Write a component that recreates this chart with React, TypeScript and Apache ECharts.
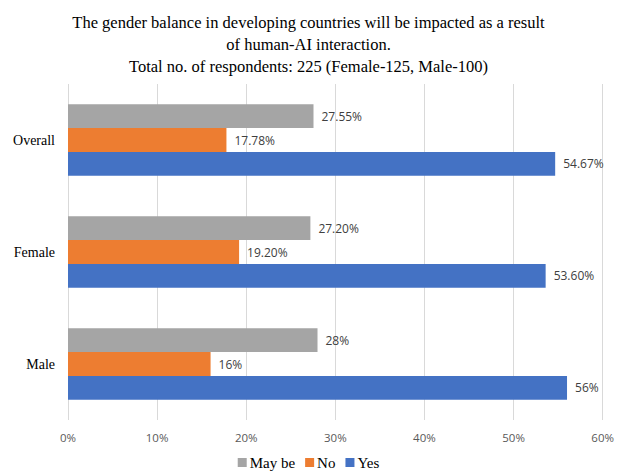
import React, { useEffect, useRef } from "react";
import * as echarts from "echarts";

const categories = ["Male", "Female", "Overall"];
const yesValues = [56, 53.6, 54.67];
const noValues = [16, 19.2, 17.78];
const maybeValues = [28, 27.2, 27.55];
const xTicks = [0, 10, 20, 30, 40, 50, 60];
const titleLines = [
  "The gender balance in developing countries will be impacted as a result",
  "of human-AI interaction.",
  "Total no. of respondents: 225 (Female-125, Male-100)",
];

const fmt = (v: number) => (Number.isInteger(v) ? `${v}%` : `${v.toFixed(2)}%`);

export default function App() {
  const ref = useRef<HTMLDivElement>(null);
  useEffect(() => {
    if (!ref.current) return;
    const chart = echarts.init(ref.current, null, { renderer: "svg" });
    const label = {
      show: true,
      position: "right",
      distance: 8,
      fontFamily: "Open Sans",
      fontSize: 12,
      color: "#404040",
      formatter: (p: any) => fmt(p.value),
    };
    chart.setOption({
      animation: false,
      backgroundColor: "#ffffff",
      title: {
        text: titleLines.join("\n"),
        left: "center",
        top: 6,
        textStyle: {
          fontFamily: "Liberation Serif",
          fontSize: 16.5,
          fontWeight: "normal",
          color: "#000",
          lineHeight: 22,
        },
      },
      legend: {
        data: ["May be", "No", "Yes"],
        bottom: -3,
        left: "center",
        icon: "rect",
        itemWidth: 9,
        itemHeight: 9,
        itemGap: 10,
        textStyle: { fontFamily: "Liberation Serif", fontSize: 15, color: "#000", padding: [0, 0, 0, -2] },
      },
      grid: { left: 68, right: 14, top: 84, bottom: 52, containLabel: false },
      xAxis: {
        type: "value",
        min: xTicks[0],
        max: xTicks[xTicks.length - 1],
        interval: 10,
        axisLabel: {
          formatter: (v: number) => `${v}%`,
          fontFamily: "Open Sans",
          fontSize: 11.5,
          color: "#595959",
          margin: 11,
        },
        axisLine: { show: false },
        axisTick: { show: false },
        splitLine: { lineStyle: { color: "#d9d9d9", width: 1 } },
      },
      yAxis: {
        type: "category",
        data: categories,
        axisLabel: {
          fontFamily: "Liberation Serif",
          fontSize: 14,
          color: "#000",
          margin: 13,
        },
        axisLine: { show: false },
        axisTick: { show: false },
      },
      series: [
        { name: "May be", type: "bar", data: maybeValues, itemStyle: { color: "#A5A5A5" }, barGap: "0%", barCategoryGap: "36%", label },
        { name: "No", type: "bar", data: noValues, itemStyle: { color: "#ED7D31" }, barGap: "0%", barCategoryGap: "36%", label },
        { name: "Yes", type: "bar", data: yesValues, itemStyle: { color: "#4472C4" }, barGap: "0%", barCategoryGap: "36%", label },
      ],
    });
    return () => chart.dispose();
  }, []);
  return <div ref={ref} style={{ position: "absolute", left: 0, top: 0, width: 617, height: 472 }} />;
}
